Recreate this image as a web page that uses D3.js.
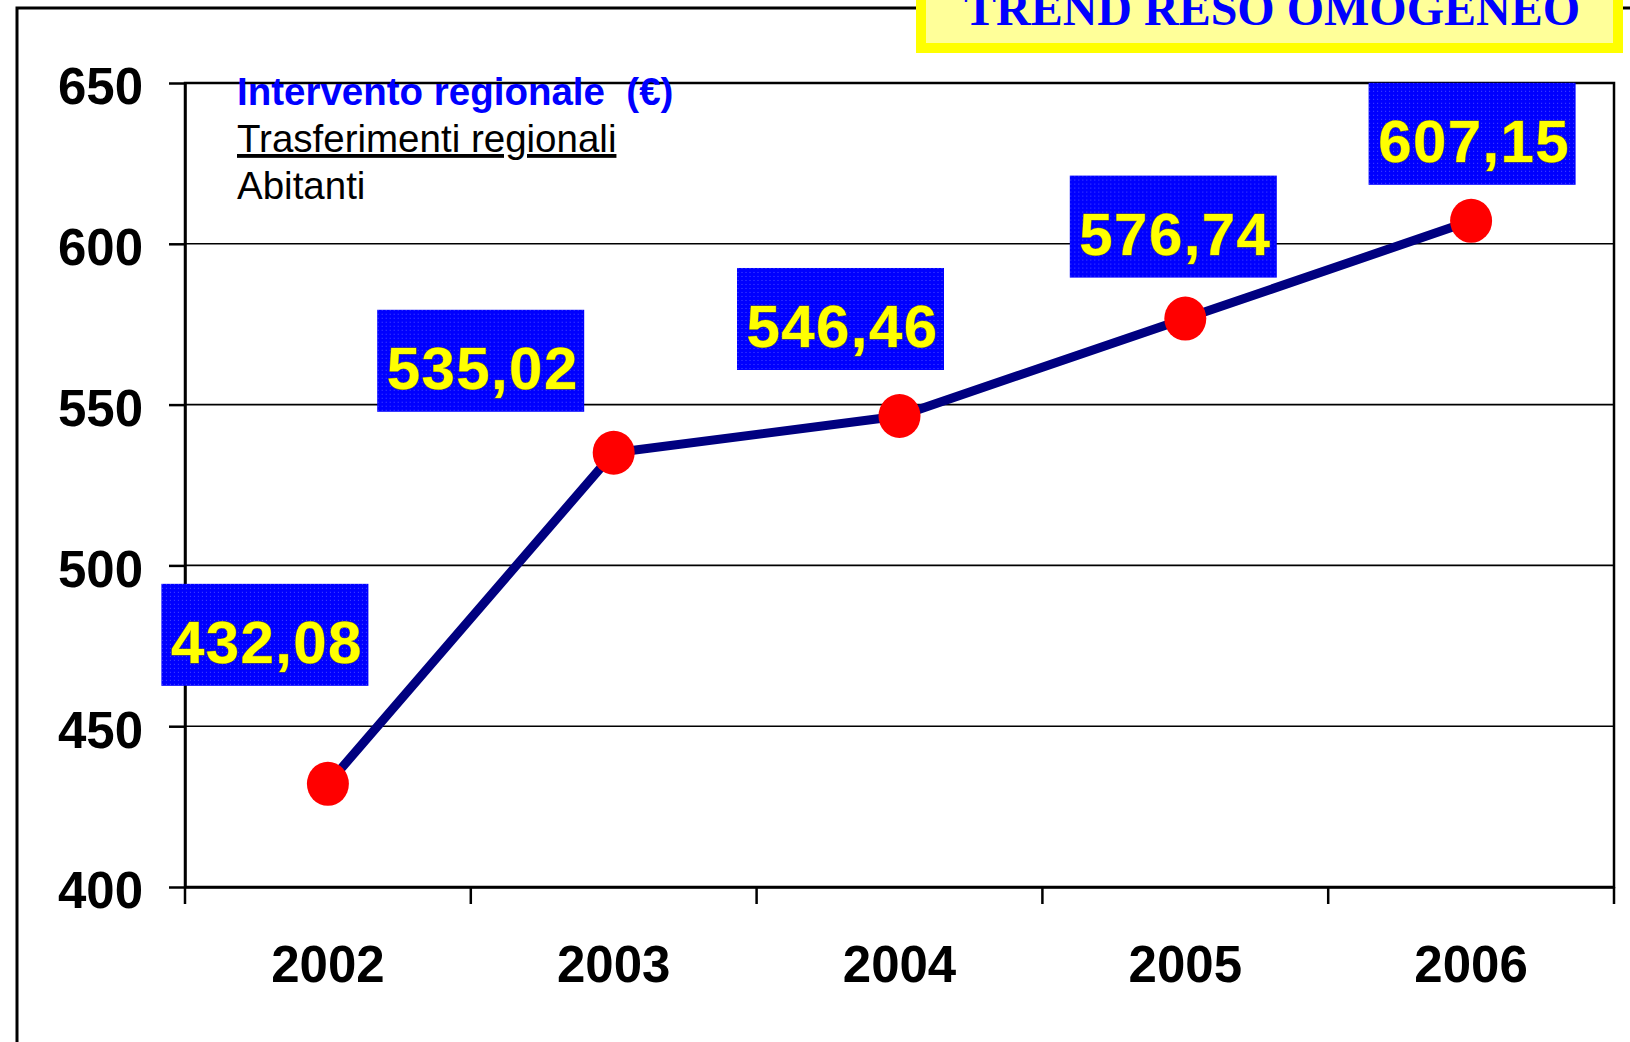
<!DOCTYPE html>
<html>
<head>
<meta charset="utf-8">
<script src="https://cdn.jsdelivr.net/npm/d3@7"></script>
<style>
  body { margin: 0; background: #fff; }
  svg { display: block; }
</style>
</head>
<body>
<div id="chart"></div>
<script>
// data
var years = ["2002", "2003", "2004", "2005", "2006"];
var values = [432.08, 535.02, 546.46, 576.74, 607.15];
var valueLabels = ["432,08", "535,02", "546,46", "576,74", "607,15"];
var yTicks = [400, 450, 500, 550, 600, 650];
var legendLines = ["Intervento regionale  (\u20AC)", "Trasferimenti regionali", "Abitanti"];
var titleText = "TREND RESO OMOGENEO";

// where each value box sits relative to its point (layout only)
var labelOffsets = [[-63, -149], [-133, -92], [-59, -97], [-12, -92], [1, -87]];

var width = 1630, height = 1042;
var margin = {top: 83, right: 16, bottom: 155, left: 185};

var svg = d3.select("#chart").append("svg")
    .attr("width", width)
    .attr("height", height);

var defs = svg.append("defs");
var pat = defs.append("pattern")
    .attr("id", "dots")
    .attr("width", 4).attr("height", 4)
    .attr("patternUnits", "userSpaceOnUse");
pat.append("rect").attr("width", 4).attr("height", 4).attr("fill", "#0000ff");
pat.append("rect").attr("x", 1).attr("y", 1).attr("width", 1).attr("height", 1).attr("fill", "#4a4aff");

var x = d3.scaleBand()
    .domain(years)
    .range([margin.left, width - margin.right])
    .paddingInner(0).paddingOuter(0);

var y = d3.scaleLinear()
    .domain([400, 650])
    .range([height - margin.bottom, margin.top]);

// outer frame
svg.append("rect")
    .attr("x", 17).attr("y", 8)
    .attr("width", width + 20).attr("height", height + 20)
    .attr("fill", "none")
    .attr("stroke", "#000")
    .attr("stroke-width", 3);

// gridlines
svg.append("g")
  .selectAll("line")
  .data(yTicks)
  .join("line")
    .attr("x1", margin.left).attr("x2", width - margin.right)
    .attr("y1", d => y(d)).attr("y2", d => y(d))
    .attr("stroke", "#000")
    .attr("stroke-width", 1.6);

// plot box
svg.append("rect")
    .attr("x", margin.left).attr("y", margin.top)
    .attr("width", width - margin.right - margin.left)
    .attr("height", height - margin.bottom - margin.top)
    .attr("fill", "none")
    .attr("stroke", "#000")
    .attr("stroke-width", 2.5);

// y axis
var yAxis = svg.append("g")
    .attr("transform", "translate(" + margin.left + ",0)")
    .call(d3.axisLeft(y).tickValues(yTicks).tickSize(16).tickPadding(26).tickSizeOuter(0));
yAxis.select(".domain").attr("stroke", "#000").attr("stroke-width", 2.5);
yAxis.selectAll(".tick line").attr("stroke", "#000").attr("stroke-width", 2.5);
yAxis.selectAll(".tick text")
    .attr("dy", "0.41em")
    .attr("fill", "#000")
    .style("font-family", "'Liberation Sans', Arial, sans-serif")
    .style("font-weight", "bold")
    .style("font-size", "51px");

// x axis (labels at band centres)
var xAxis = svg.append("g")
    .attr("transform", "translate(0," + (height - margin.bottom) + ")")
    .call(d3.axisBottom(x).tickSize(0).tickPadding(59));
xAxis.select(".domain").attr("stroke", "#000").attr("stroke-width", 2.5);
xAxis.selectAll(".tick text")
    .attr("fill", "#000")
    .style("font-family", "'Liberation Sans', Arial, sans-serif")
    .style("font-weight", "bold")
    .style("font-size", "51px");

// x tick marks at band edges
var edges = years.map(d => x(d)).concat([x(years[years.length - 1]) + x.bandwidth()]);
svg.append("g")
  .selectAll("line")
  .data(edges)
  .join("line")
    .attr("x1", d => d).attr("x2", d => d)
    .attr("y1", height - margin.bottom)
    .attr("y2", height - margin.bottom + 17)
    .attr("stroke", "#000")
    .attr("stroke-width", 2.5);

// legend text
var legend = svg.append("g")
    .style("font-family", "'Liberation Sans', Arial, sans-serif");
legend.append("text")
    .attr("x", 237).attr("y", 105)
    .attr("fill", "#0000ff")
    .style("font-weight", "bold")
    .style("font-size", "38.5px")
    .style("white-space", "pre")
    .attr("xml:space", "preserve")
    .text(legendLines[0]);
legend.append("text")
    .attr("x", 237).attr("y", 152)
    .attr("fill", "#000")
    .style("font-size", "38.5px")
    .style("text-decoration", "underline")
    .text(legendLines[1]);
legend.append("text")
    .attr("x", 237).attr("y", 199)
    .attr("fill", "#000")
    .style("font-size", "38.5px")
    .text(legendLines[2]);

// line
var pts = years.map((d, i) => ({year: d, value: values[i], label: valueLabels[i], off: labelOffsets[i]}));
var cx = d => x(d.year) + x.bandwidth() / 2;

svg.append("path")
    .datum(pts)
    .attr("fill", "none")
    .attr("stroke", "#000080")
    .attr("stroke-width", 9)
    .attr("d", d3.line().x(cx).y(d => y(d.value)));

svg.append("g")
  .selectAll("ellipse")
  .data(pts)
  .join("ellipse")
    .attr("cx", cx)
    .attr("cy", d => y(d.value))
    .attr("rx", 21).attr("ry", 22)
    .attr("fill", "#ff0000");

// value boxes
var boxW = 207, boxH = 102;
var boxes = svg.append("g")
  .selectAll("g")
  .data(pts)
  .join("g")
    .attr("transform", d => "translate(" + (cx(d) + d.off[0]) + "," + (y(d.value) + d.off[1]) + ")");
boxes.append("rect")
    .attr("x", -boxW / 2).attr("y", -boxH / 2)
    .attr("width", boxW).attr("height", boxH)
    .attr("fill", "url(#dots)");
boxes.append("text")
    .attr("x", 2).attr("y", 28)
    .attr("text-anchor", "middle")
    .attr("fill", "#ffff00")
    .style("font-family", "'Liberation Sans', Arial, sans-serif")
    .style("font-weight", "bold")
    .style("font-size", "60px")
    .style("letter-spacing", "1.4px")
    .style("paint-order", "stroke")
    .style("stroke", "#6b6b20")
    .style("stroke-width", "1px")
    .text(d => d.label);

// title box
svg.append("rect")
    .attr("x", 921).attr("y", -20)
    .attr("width", 697).attr("height", 68)
    .attr("fill", "#ffff99")
    .attr("stroke", "#ffff00")
    .attr("stroke-width", 10);
svg.append("text")
    .attr("x", 1272).attr("y", 25)
    .attr("text-anchor", "middle")
    .attr("fill", "#0000ff")
    .style("font-family", "'Liberation Serif', 'Times New Roman', serif")
    .style("font-weight", "bold")
    .style("font-size", "48px")
    .text(titleText);
</script>
</body>
</html>
